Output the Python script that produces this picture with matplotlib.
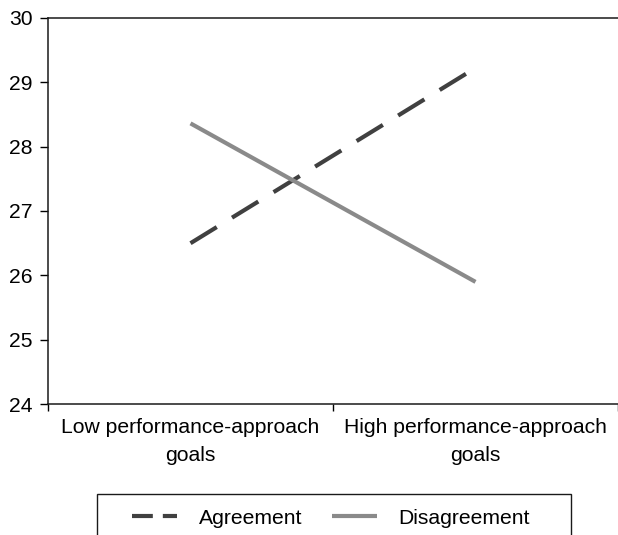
import matplotlib
matplotlib.use("Agg")
import matplotlib.pyplot as plt
from matplotlib.lines import Line2D
from matplotlib.patches import Rectangle
import numpy as np

# Daten
categories = ["Low performance-approach\ngoals", "High performance-approach\ngoals"]
agreement = [26.5, 29.22]
disagreement = [28.36, 25.9]
y_ticks = [24, 25, 26, 27, 28, 29, 30]

plt.rcParams["font.family"] = ["Liberation Sans", "DejaVu Sans"]
FS = 15.2
DARK = "#404040"
GREY = "#8a8a8a"

fig = plt.figure(figsize=(6.18, 5.35), dpi=100)
ax = fig.add_axes([48 / 618, 1 - 404.3 / 535, 570 / 618, (404.3 - 17.7) / 535])

x = np.arange(len(categories))
ax.plot(x, agreement, color=DARK, linewidth=3, dashes=(7.4, 4.3),
        dash_capstyle="butt", label="Agreement")
ax.plot(x, disagreement, color=GREY, linewidth=3,
        solid_capstyle="butt", label="Disagreement")

ax.set_xlim(-0.5, 1.5)
ax.set_ylim(24, 30)
ax.set_yticks(y_ticks)
ax.set_yticklabels([str(t) for t in y_ticks], fontsize=FS)

# Kategorien-Grenzen als Ticks, Beschriftungen mittig
ax.set_xticks([-0.5, 0.5, 1.5])
ax.set_xticklabels([])
ax.set_xticks(x, minor=True)
ax.set_xticklabels(categories, minor=True, fontsize=FS, linespacing=1.6)
ax.tick_params(axis="x", which="minor", length=0, pad=10)
ax.tick_params(axis="x", which="major", length=5, width=1, direction="out")
ax.tick_params(axis="y", length=5.8, width=1, direction="out", pad=5)

ax.spines["right"].set_visible(False)
for s in ["left", "bottom", "top"]:
    ax.spines[s].set_linewidth(1.1)
    ax.spines[s].set_color("#1a1a1a")

# Legende: eigene Handles (kürzeres Strichmuster), Rahmen separat
handles = [Line2D([], [], color=DARK, linewidth=3, dashes=(5, 2.4), dash_capstyle="butt"),
           Line2D([], [], color=GREY, linewidth=3, solid_capstyle="butt")]
leg = fig.legend(handles, ["Agreement", "Disagreement"], loc="center left",
                 bbox_to_anchor=(132 / 618, 1 - 518 / 535), ncol=2, fontsize=FS,
                 frameon=False, handlelength=2.15, handletextpad=1.0,
                 columnspacing=1.4, borderpad=0, borderaxespad=0)
fig.patches.append(Rectangle((97 / 618, -0.05), (571 - 97) / 618, 0.05 + 1 - 494 / 535,
                             transform=fig.transFigure, fill=False,
                             edgecolor="#1a1a1a", linewidth=1.0))

fig.savefig("out.png", dpi=100)
